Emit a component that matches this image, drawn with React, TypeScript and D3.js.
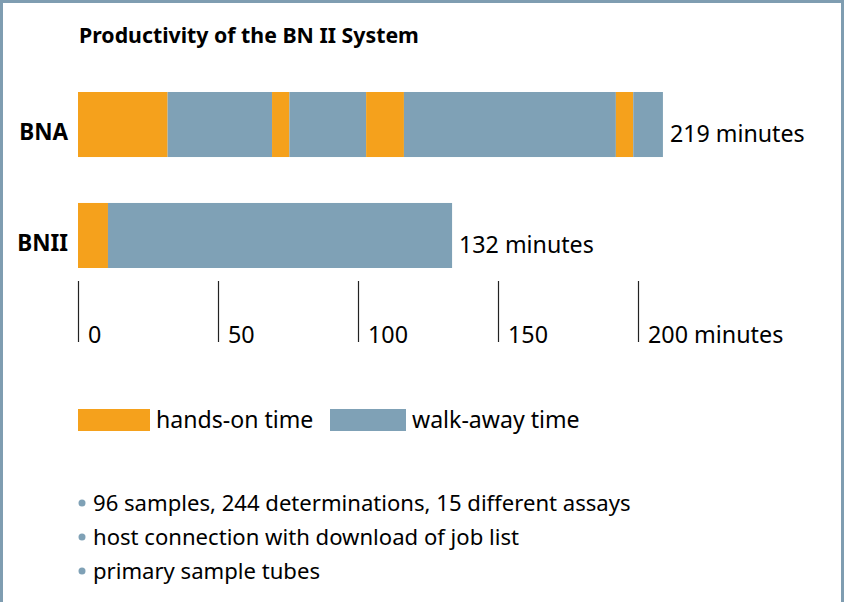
import React, { useEffect, useRef } from 'react';
import * as d3 from 'd3';

const systems = ['BNA', 'BNII'];
const totalLabels = ['219 minutes', '132 minutes'];
// alternating hands-on / walk-away segments, minutes (starting with hands-on)
const bnaSegments = [32.0, 37.3, 6.2, 27.4, 13.5, 75.7, 6.2, 10.6];
const bniiSegments = [10.7, 122.9];
const tickValues = [0, 50, 100, 150, 200];
const tickLabels = ['0', '50', '100', '150', '200 minutes'];
const legendLabels = ['hands-on time', 'walk-away time'];
const notes = [
  '96 samples, 244 determinations, 15 different assays',
  'host connection with download of job list',
  'primary sample tubes',
];

const ORANGE = '#F5A11C';
const BLUE = '#7FA1B6';
const FONT = '"Noto Sans", "Open Sans", sans-serif';

export default function App() {
  const svgRef = useRef<SVGSVGElement>(null);

  useEffect(() => {
    const svg = d3.select(svgRef.current);
    svg.selectAll('*').remove();

    const width = 847;
    const height = 602;

    svg.attr('width', width).attr('height', height);

    // frame
    svg.append('path')
      .attr('d', `M1.5,${height} V1.5 H842.5 V${height}`)
      .attr('fill', 'none')
      .attr('stroke', '#7F9DB1')
      .attr('stroke-width', 3);

    svg.append('text')
      .attr('x', 79)
      .attr('y', 43)
      .attr('font-family', FONT)
      .attr('font-weight', 'bold')
      .attr('font-size', 21.3)
      .text('Productivity of the BN II System');

    const x = d3.scaleLinear().domain([0, 200]).range([78, 638]);
    const y = d3.scaleBand().domain(systems).range([92, 268]).paddingInner(0.414).paddingOuter(0);

    const rows = [bnaSegments, bniiSegments];
    const colors = [ORANGE, BLUE];

    systems.forEach((sys, i) => {
      const segs = rows[i];
      const ends = d3.cumsum(segs);
      const g = svg.append('g');
      g.selectAll('rect')
        .data(segs)
        .enter()
        .append('rect')
        .attr('x', (d, j) => x(ends[j] - d))
        .attr('y', y(sys)!)
        .attr('width', d => x(d) - x(0))
        .attr('height', y.bandwidth())
        .attr('fill', (d, j) => colors[j % 2]);

      const total = ends[ends.length - 1];
      svg.append('text')
        .attr('x', x(total) + 7)
        .attr('y', y(sys)! + y.bandwidth() - 15)
        .attr('font-family', FONT)
        .attr('font-size', 23.2)
        .text(totalLabels[i]);

      svg.append('text')
        .attr('x', 68)
        .attr('y', y(sys)! + y.bandwidth() - 17)
        .attr('text-anchor', 'end')
        .attr('font-family', FONT)
        .attr('font-weight', 'bold')
        .attr('font-size', 22.5)
        .text(sys);
    });

    // axis: vertical tick lines with labels to the right
    const axis = svg.append('g');
    axis.selectAll('line')
      .data(tickValues)
      .enter()
      .append('line')
      .attr('x1', d => x(d) + 0.5)
      .attr('x2', d => x(d) + 0.5)
      .attr('y1', 281)
      .attr('y2', 342)
      .attr('stroke', '#222')
      .attr('stroke-width', 1.2);
    axis.selectAll('text')
      .data(tickValues)
      .enter()
      .append('text')
      .attr('x', d => x(d) + 10)
      .attr('y', 343)
      .attr('font-family', FONT)
      .attr('font-size', 23.3)
      .text((d, i) => tickLabels[i]);

    // legend
    const legendX = [78, 330];
    legendLabels.forEach((lab, i) => {
      svg.append('rect')
        .attr('x', legendX[i])
        .attr('y', 409)
        .attr('width', i === 0 ? 72 : 76)
        .attr('height', 22)
        .attr('fill', colors[i]);
      svg.append('text')
        .attr('x', legendX[i] + (i === 0 ? 78 : 82))
        .attr('y', 428)
        .attr('font-family', FONT)
        .attr('font-size', 23.1)
        .text(lab);
    });

    // bullet notes
    const noteY = d3.scaleLinear().domain([0, 1]).range([511, 545]);
    notes.forEach((n, i) => {
      svg.append('circle')
        .attr('cx', 82)
        .attr('cy', noteY(i) - 8)
        .attr('r', 3.5)
        .attr('fill', BLUE);
      svg.append('text')
        .attr('x', 93)
        .attr('y', noteY(i))
        .attr('font-family', FONT)
        .attr('font-size', 22.1)
        .text(n);
    });
  }, []);

  return (
    <svg ref={svgRef} style={{ position: 'fixed', left: 0, top: 0, background: '#fff' }} />
  );
}
